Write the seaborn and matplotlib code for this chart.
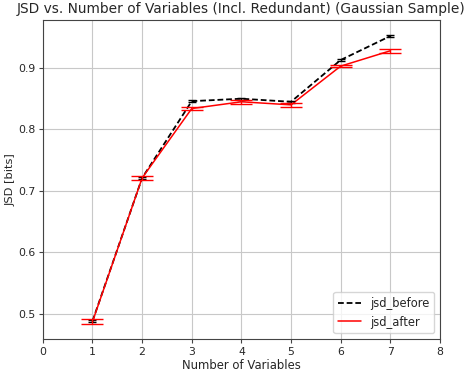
import numpy as np
import pandas as pd
import matplotlib
matplotlib.use("Agg")
import matplotlib.pyplot as plt
import seaborn as sns

# values
n_vars = [1, 2, 3, 4, 5, 6, 7]
jsd_before = [0.488, 0.721, 0.846, 0.850, 0.845, 0.913, 0.952]
jsd_before_err = [0.0015, 0.0015, 0.0015, 0.0015, 0.0015, 0.0015, 0.0012]
jsd_after = [0.487, 0.721, 0.834, 0.845, 0.840, 0.903, 0.928]
jsd_after_err = [0.0045, 0.003, 0.0025, 0.003, 0.003, 0.002, 0.003]

sns.set_style("ticks")
plt.rcParams["font.family"] = ["DejaVu Sans"]

fig = plt.figure(figsize=(4.71, 3.72), dpi=100)
ax = fig.add_axes([0.091, 0.089, 0.843, 0.857])

sns.lineplot(x=n_vars, y=jsd_before, color="black", linestyle=(0, (3.2, 1.6)),
             linewidth=1.3, label="jsd_before", ax=ax, zorder=3)
sns.lineplot(x=n_vars, y=jsd_after, color="red", linewidth=1.1,
             label="jsd_after", ax=ax, zorder=3)
ax.errorbar(n_vars, jsd_before, yerr=jsd_before_err, fmt="none",
            ecolor="black", capsize=3, elinewidth=1, zorder=4)
ax.errorbar(n_vars, jsd_after, yerr=jsd_after_err, fmt="none",
            ecolor="red", capsize=8, elinewidth=1, zorder=4)

ax.set_xlim(0, 8)
ax.set_ylim(0.459, 0.978)
ax.set_xticks(range(0, 9))
ax.set_yticks([0.5, 0.6, 0.7, 0.8, 0.9])
ax.grid(True, color="#c8c8c8", linewidth=0.8)
for s in ax.spines.values():
    s.set_color("#444444")
    s.set_visible(True)
ax.tick_params(labelsize=7.8, length=3, pad=2.5, color="#444444")

ax.set_title("JSD vs. Number of Variables (Incl. Redundant) (Gaussian Sample)", fontsize=9.9, pad=5)
ax.set_xlabel("Number of Variables", fontsize=8.4, labelpad=2)
ax.set_ylabel("JSD [bits]", fontsize=8.2, labelpad=2)
ax.legend(loc="lower right", fontsize=8.3, framealpha=0.8)

fig.savefig("out.png", dpi=100)
